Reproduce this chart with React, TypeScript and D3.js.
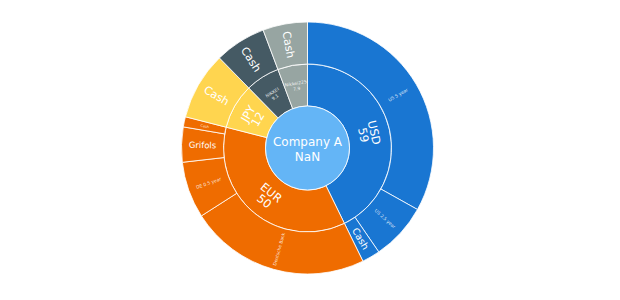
import React from "react";
import * as d3 from "d3";

// Portfolio breakdown: company -> currency -> holding
const rootName = "Company A";
const rootValueText = "NaN";

const currencies = ["USD", "EUR", "JPY", "NIKKEI", "Nikkei225"];
const currencyColors = ["#1976d2", "#ef6c00", "#ffd54f", "#455a64", "#97a5a2"];

const holdingNames = [
  "US 5 year", "US 2.5 year", "Cash",
  "Deutsche Bank", "DE 0.5 year", "Grifols", "Cash",
  "Cash",
  "Cash",
  "Cash",
];
const holdingCurrency = [
  "USD", "USD", "USD",
  "EUR", "EUR", "EUR", "EUR",
  "JPY",
  "NIKKEI",
  "Nikkei225",
];
const holdingValues = [45.7, 10.1, 3.2, 32.0, 10.0, 6.2, 1.8, 12, 9.1, 7.9];

const W = 620;
const H = 300;
const CX = 307.5;
const CY = 148;
const RADIUS = 126;
const FONT = "'DejaVu Sans', Verdana, sans-serif";

// label font sizes for the outer ring, by holding index
const outerFont = (i: number, name: string, cur: string) => {
  if (name === "Cash" && (cur === "JPY" || cur === "NIKKEI" || cur === "Nikkei225")) return 11;
  if (name === "Cash" && cur === "USD") return 9.5;
  if (name === "Grifols") return 8.5;
  if (name === "Cash" && cur === "EUR") return 3.5;
  return 4.5;
};

type Node = { name: string; value?: number; currency?: string; children?: Node[] };

export default function App() {
  const data: Node = {
    name: rootName,
    children: currencies.map((c) => ({
      name: c,
      currency: c,
      children: holdingNames
        .map((n, i) => ({ name: n, value: holdingValues[i], currency: holdingCurrency[i] }))
        .filter((h) => h.currency === c),
    })),
  };

  const root = d3
    .hierarchy<Node>(data)
    .sum((d) => (d.children ? 0 : d.value || 0));

  const partitioned = d3.partition<Node>().size([2 * Math.PI, RADIUS])(root);

  const color = d3.scaleOrdinal<string, string>().domain(currencies).range(currencyColors);
  const fmt = d3.format(".3~g");

  const arc = d3
    .arc<d3.HierarchyRectangularNode<Node>>()
    .startAngle((d) => d.x0)
    .endAngle((d) => d.x1)
    .innerRadius((d) => d.y0)
    .outerRadius((d) => d.y1);

  const nodes = partitioned.descendants().filter((d) => d.depth > 0);
  const mids = nodes.filter((d) => d.depth === 1);
  const leaves = nodes.filter((d) => d.depth === 2);

  return (
    <div style={{ position: "fixed", left: 0, top: 0 }}>
      <svg width={W} height={H} style={{ display: "block", background: "#fff" }}>
        <g transform={`translate(${CX},${CY})`}>
          {nodes.map((d, i) => (
            <path
              key={i}
              d={arc(d) || ""}
              fill={color(d.data.currency as string)}
              stroke="#ffffff"
              strokeOpacity={0.8}
              strokeWidth={1}
            />
          ))}
          <circle r={partitioned.y1} fill="#64b5f6" stroke="#ffffff" strokeOpacity={0.8} strokeWidth={1} />
          <text
            textAnchor="middle"
            fill="#ffffff"
            fontFamily={FONT}
            fontSize={12}
          >
            <tspan x={0} y={-2}>{rootName}</tspan>
            <tspan x={0} y={13}>{rootValueText}</tspan>
          </text>

          {/* currency labels follow the ring */}
          {mids.map((d, i) => {
            const a = ((d.x0 + d.x1) / 2) * (180 / Math.PI);
            const r = (d.y0 + d.y1) / 2;
            const x = r * Math.sin((a * Math.PI) / 180);
            const y = -r * Math.cos((a * Math.PI) / 180);
            const rot = a > 90 && a < 270 ? a - 180 : a;
            const big = d.data.name.length <= 3;
            const fs = big ? 11.5 : 4.5;
            const lh = big ? 11 : 5.5;
            return (
              <text
                key={i}
                transform={`translate(${x},${y}) rotate(${rot})`}
                textAnchor="middle"
                fill="#ffffff"
                fillOpacity={big ? 1 : 0.85}
                fontFamily={FONT}
                fontSize={fs}
              >
                <tspan x={0} y={-lh / 2 + fs * 0.35}>{d.data.name}</tspan>
                <tspan x={0} y={lh / 2 + fs * 0.35}>{fmt(d.value || 0)}</tspan>
              </text>
            );
          })}

          {/* holding labels run along the radius */}
          {leaves.map((d, i) => {
            const a = ((d.x0 + d.x1) / 2) * (180 / Math.PI);
            const r = (d.y0 + d.y1) / 2;
            const fs = outerFont(i, d.data.name, d.data.currency as string);
            return (
              <text
                key={i}
                transform={`rotate(${a - 90}) translate(${r},0) rotate(${a < 180 ? 0 : 180})`}
                textAnchor="middle"
                dy="0.35em"
                fill="#ffffff"
                fillOpacity={fs < 6 ? 0.85 : 1}
                fontFamily={FONT}
                fontSize={fs}
              >
                {d.data.name}
              </text>
            );
          })}
        </g>
      </svg>
    </div>
  );
}
